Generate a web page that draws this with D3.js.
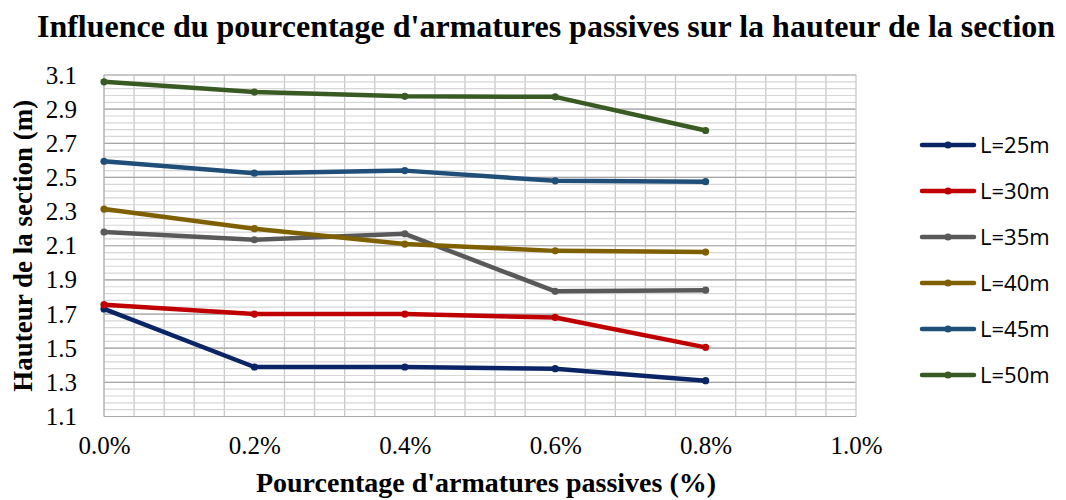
<!DOCTYPE html>
<html>
<head>
<meta charset="utf-8">
<script src="https://cdn.jsdelivr.net/npm/d3@7"></script>
<style>
  html, body { margin: 0; padding: 0; background: #fff; }
  svg { display: block; }
</style>
</head>
<body>
<svg id="chart" width="1066" height="500"></svg>
<script>
// Reinforcement ratio (%) on the x axis
const ratios = [0.0, 0.2, 0.4, 0.6, 0.8];

// Section height (m) for each span length
const seriesNames = ["L=25m", "L=30m", "L=35m", "L=40m", "L=45m", "L=50m"];
const h25 = [1.73, 1.39, 1.39, 1.38, 1.31];
const h30 = [1.755, 1.70, 1.70, 1.68, 1.505];
const h35 = [2.18, 2.135, 2.17, 1.833, 1.84];
const h40 = [2.315, 2.20, 2.11, 2.07, 2.063];
const h45 = [2.595, 2.525, 2.54, 2.48, 2.475];
const h50 = [3.06, 3.00, 2.975, 2.972, 2.775];
const seriesColors = ["#0b2466", "#c00000", "#595959", "#7f6000", "#1f4e79", "#3a5a24"];

const xTicks = [0.0, 0.2, 0.4, 0.6, 0.8, 1.0];
const xTickLabels = ["0.0%", "0.2%", "0.4%", "0.6%", "0.8%", "1.0%"];
const yTicks = [1.1, 1.3, 1.5, 1.7, 1.9, 2.1, 2.3, 2.5, 2.7, 2.9, 3.1];
const yTickLabels = ["1.1", "1.3", "1.5", "1.7", "1.9", "2.1", "2.3", "2.5", "2.7", "2.9", "3.1"];

const titleText = "Influence du pourcentage d'armatures passives sur la hauteur de la section";
const xTitle = "Pourcentage d'armatures passives (%)";
const yTitle = "Hauteur de la section (m)";

const allSeries = [h25, h30, h35, h40, h45, h50].map((vals, i) => ({
  name: seriesNames[i],
  color: seriesColors[i],
  points: vals.map((v, j) => ({ x: ratios[j], y: v }))
}));

const svg = d3.select("#chart");
const plot = { left: 104, right: 856, top: 75, bottom: 416.5 };

const x = d3.scaleLinear().domain([0, 1.0]).range([plot.left, plot.right]);
const y = d3.scaleLinear().domain([1.1, 3.1]).range([plot.bottom, plot.top]);

const serif = "'Liberation Serif', 'Times New Roman', serif";

// Gridlines: minor steps of 0.04 % horizontally and 0.04 m vertically
const grid = svg.append("g").attr("class", "grid");
const xMinorVals = d3.range(0, 26).map(i => +(i * 0.04).toFixed(2))
  .filter(v => Math.abs(v / 0.2 - Math.round(v / 0.2)) > 1e-6);
grid.selectAll("line.vminor").data(xMinorVals).join("line")
  .attr("class", "vminor")
  .attr("x1", d => x(d)).attr("x2", d => x(d))
  .attr("y1", plot.top).attr("y2", plot.bottom)
  .attr("stroke", "#c9c9c9").attr("stroke-width", 1.3);

const yMinorVals = d3.range(0, 51).map(i => +(1.1 + i * 0.04).toFixed(2));
grid.selectAll("line.hminor").data(yMinorVals).join("line")
  .attr("class", "hminor")
  .attr("x1", plot.left).attr("x2", plot.right)
  .attr("y1", d => y(d)).attr("y2", d => y(d))
  .attr("stroke", "#d6d6d6").attr("stroke-width", 1.2);

grid.selectAll("line.hmajor").data(yTicks).join("line")
  .attr("class", "hmajor")
  .attr("x1", plot.left).attr("x2", plot.right)
  .attr("y1", d => y(d)).attr("y2", d => y(d))
  .attr("stroke", "#a6a6a6").attr("stroke-width", 1.2);

// Plot edges
grid.append("line")
  .attr("x1", x(1.0)).attr("x2", x(1.0)).attr("y1", plot.top).attr("y2", plot.bottom)
  .attr("stroke", "#c9c9c9").attr("stroke-width", 1.3);
grid.append("line")
  .attr("x1", x(0)).attr("x2", x(0)).attr("y1", plot.top).attr("y2", plot.bottom)
  .attr("stroke", "#b0b0b0").attr("stroke-width", 1.5);

// Axes
const xAxis = d3.axisBottom(x).tickValues(xTicks)
  .tickFormat((d, i) => xTickLabels[i]).tickSize(0).tickPadding(20);
const gx = svg.append("g").attr("transform", `translate(0,${plot.bottom})`).call(xAxis);
gx.select(".domain").remove();
gx.selectAll("text").attr("font-family", serif).attr("font-size", 25).attr("fill", "#000");

const yAxis = d3.axisLeft(y).tickValues(yTicks)
  .tickFormat((d, i) => yTickLabels[i]).tickSize(0).tickPadding(27);
const gy = svg.append("g").attr("transform", `translate(${plot.left},0)`).call(yAxis);
gy.select(".domain").remove();
gy.selectAll("text").attr("font-family", serif).attr("font-size", 25).attr("fill", "#000");

// Series lines and markers
const line = d3.line().x(d => x(d.x)).y(d => y(d.y));
const gs = svg.append("g").attr("class", "series");
allSeries.forEach(s => {
  gs.append("path")
    .datum(s.points)
    .attr("d", line)
    .attr("fill", "none")
    .attr("stroke", s.color)
    .attr("stroke-width", 4.5)
    .attr("stroke-linejoin", "round")
    .attr("stroke-linecap", "round");
  gs.selectAll(null).data(s.points).join("circle")
    .attr("cx", d => x(d.x)).attr("cy", d => y(d.y))
    .attr("r", 3.6).attr("fill", s.color);
});

// Legend
const legend = svg.append("g").attr("class", "legend");
const legendTop = 145, legendStep = 46;
allSeries.forEach((s, i) => {
  const ly = legendTop + i * legendStep;
  legend.append("line")
    .attr("x1", 922).attr("x2", 974).attr("y1", ly).attr("y2", ly)
    .attr("stroke", s.color).attr("stroke-width", 4.5).attr("stroke-linecap", "round");
  legend.append("circle").attr("cx", 948).attr("cy", ly).attr("r", 3.6).attr("fill", s.color);
  legend.append("text")
    .attr("x", 980).attr("y", ly).attr("dy", "0.36em")
    .attr("font-family", "'Open Sans', 'Noto Sans', sans-serif")
    .attr("font-size", 22).attr("fill", "#000")
    .text(s.name);
});

// Titles
svg.append("text")
  .attr("x", 546).attr("y", 37)
  .attr("text-anchor", "middle")
  .attr("font-family", serif).attr("font-weight", "bold").attr("font-size", 32)
  .attr("fill", "#000")
  .text(titleText);

svg.append("text")
  .attr("x", 486).attr("y", 492)
  .attr("text-anchor", "middle")
  .attr("font-family", serif).attr("font-weight", "bold").attr("font-size", 28)
  .attr("fill", "#000")
  .text(xTitle);

svg.append("text")
  .attr("transform", `translate(32,${(plot.top + plot.bottom) / 2}) rotate(-90)`)
  .attr("text-anchor", "middle")
  .attr("font-family", serif).attr("font-weight", "bold").attr("font-size", 27)
  .attr("fill", "#000")
  .text(yTitle);
</script>
</body>
</html>
